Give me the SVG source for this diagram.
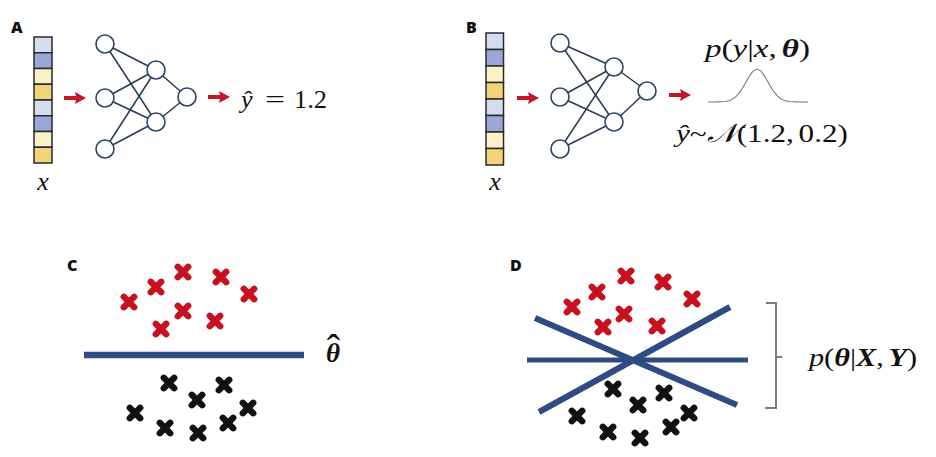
<svg xmlns="http://www.w3.org/2000/svg" xmlns:xlink="http://www.w3.org/1999/xlink" width="936" height="457" viewBox="0 0 936 457">
<style>
.lbl{font-family:"Open Sans","Liberation Sans",sans-serif;font-weight:800;font-size:16px;fill:#111}
.m{font-family:"Liberation Serif","DejaVu Serif",serif;font-size:26px;fill:#111}
.i{font-style:italic}
.b{font-weight:bold;font-style:italic}
.edge{stroke:#2b3a55;stroke-width:1.5;fill:none}
.node{fill:#fff;stroke:#2b4466;stroke-width:1.6}
.cell{stroke:#2a2a2a;stroke-width:1.5}
.c1{fill:#d6ddf0}.c2{fill:#9ba7d6}.c3{fill:#fbf1c9}.c4{fill:#f0d47a}
.arr{fill:#c0182a}
.red{stroke:#c8101f}.blk{stroke:#111}
.bline{stroke:#2e4b84;fill:none}
</style>
<defs>
<path id="arrow" d="M0,-2 L12,-2 L11,-6 L22,0 L11,6 L12,2 L0,2 Z"/>
<path id="xm" d="M-5.2,-5.2 L5.2,5.2 M5.2,-5.2 L-5.2,5.2" stroke-width="6.4" stroke-linecap="round" fill="none"/>
</defs>
<rect width="936" height="457" fill="#fff"/>

<!-- Panel labels -->
<text class="lbl" x="11" y="33">A</text>
<text class="lbl" x="466" y="33">B</text>
<text class="lbl" x="67" y="271">C</text>
<text class="lbl" x="510" y="271">D</text>

<!-- Panel A -->
<g id="vecA">
<rect class="cell c1" x="34" y="37" width="18" height="15.75"/>
<rect class="cell c2" x="34" y="52.75" width="18" height="15.75"/>
<rect class="cell c3" x="34" y="68.5" width="18" height="15.75"/>
<rect class="cell c4" x="34" y="84.25" width="18" height="15.75"/>
<rect class="cell c1" x="34" y="100" width="18" height="15.75"/>
<rect class="cell c2" x="34" y="115.75" width="18" height="15.75"/>
<rect class="cell c3" x="34" y="131.5" width="18" height="15.75"/>
<rect class="cell c4" x="34" y="147.25" width="18" height="15.75"/>
</g>
<g id="xA"><text class="m i" x="43" y="190" text-anchor="middle" font-size="28">x</text></g>

<g id="connectors">
<g class="edge">
<line x1="105" y1="44" x2="156" y2="70"/><line x1="105" y1="44" x2="156" y2="122"/>
<line x1="105" y1="98" x2="156" y2="70"/><line x1="105" y1="98" x2="156" y2="122"/>
<line x1="105" y1="149" x2="156" y2="70"/><line x1="105" y1="149" x2="156" y2="122"/>
<line x1="156" y1="70" x2="187" y2="97"/><line x1="156" y1="122" x2="187" y2="97"/>
</g>
<g class="edge">
<line x1="560" y1="43" x2="614" y2="67"/><line x1="560" y1="43" x2="614" y2="122"/>
<line x1="560" y1="97" x2="614" y2="67"/><line x1="560" y1="97" x2="614" y2="122"/>
<line x1="560" y1="149" x2="614" y2="67"/><line x1="560" y1="149" x2="614" y2="122"/>
<line x1="614" y1="67" x2="647" y2="91"/><line x1="614" y1="122" x2="647" y2="91"/>
</g>
<use href="#arrow" class="arr" x="64" y="98"/>
<use href="#arrow" class="arr" x="208" y="97"/>
<use href="#arrow" class="arr" x="517" y="98"/>
<use href="#arrow" class="arr" x="669" y="95"/>
</g>

<g id="nnA">
<circle class="node" cx="105" cy="44" r="9"/>
<circle class="node" cx="105" cy="98" r="9"/>
<circle class="node" cx="105" cy="149" r="9"/>
<circle class="node" cx="156" cy="70" r="9"/>
<circle class="node" cx="156" cy="122" r="9"/>
<circle class="node" cx="187" cy="97" r="9"/>
</g>
<g id="outA">
<text class="m i" x="241" y="108">ŷ</text>
<text class="m" x="265" y="108" textLength="20" lengthAdjust="spacingAndGlyphs">=</text>
<text class="m" x="294" y="108" textLength="33" lengthAdjust="spacingAndGlyphs">1.2</text>
</g>

<!-- Panel B -->
<g id="vecB">
<rect class="cell c1" x="486" y="33" width="17.5" height="16.5"/>
<rect class="cell c2" x="486" y="49.5" width="17.5" height="16.5"/>
<rect class="cell c3" x="486" y="66" width="17.5" height="16.5"/>
<rect class="cell c4" x="486" y="82.5" width="17.5" height="16.5"/>
<rect class="cell c1" x="486" y="99" width="17.5" height="16.5"/>
<rect class="cell c2" x="486" y="115.5" width="17.5" height="16.5"/>
<rect class="cell c3" x="486" y="132" width="17.5" height="16.5"/>
<rect class="cell c4" x="486" y="148.5" width="17.5" height="16.5"/>
</g>
<g id="xB"><text class="m i" x="495" y="190" text-anchor="middle" font-size="28">x</text></g>
<g id="nnB">
<circle class="node" cx="560" cy="43" r="9"/>
<circle class="node" cx="560" cy="97" r="9"/>
<circle class="node" cx="560" cy="149" r="9"/>
<circle class="node" cx="614" cy="67" r="9"/>
<circle class="node" cx="614" cy="122" r="9"/>
<circle class="node" cx="647" cy="91" r="9"/>
</g>
<g id="outB">
<text class="m" x="705" y="57" font-size="28" textLength="105" lengthAdjust="spacingAndGlyphs"><tspan class="i">p</tspan>(<tspan class="i">y</tspan>|<tspan class="i">x</tspan>,<tspan class="b" dx="4">θ</tspan>)</text>
<polyline fill="none" stroke="#777" stroke-width="1.1" points="708,102 717,101.9 725,101.5 729,100.7 733,98.9 737,95.7 741,90.5 745,83.8 749,76.7 753,71.1 757,69 761,71.1 765,76.7 769,83.8 773,90.5 777,95.7 781,98.9 785,100.7 789,101.5 797,101.9 808,102"/>
<text class="m" x="676" y="142" font-size="28" textLength="172" lengthAdjust="spacingAndGlyphs"><tspan class="i">ŷ</tspan>~<tspan class="i">𝒩</tspan>(1.2,<tspan dx="4">0.2)</tspan></text>
</g>

<!-- Panel C -->
<g id="redC" class="red">
<use href="#xm" x="129" y="302"/><use href="#xm" x="156" y="287"/><use href="#xm" x="183" y="272"/>
<use href="#xm" x="221" y="277"/><use href="#xm" x="249" y="294"/><use href="#xm" x="183" y="311"/>
<use href="#xm" x="215" y="321"/><use href="#xm" x="161" y="329"/>
</g>
<g id="lineC"><line class="bline" x1="84" y1="355" x2="304" y2="355" stroke-width="6.5"/></g>
<g id="thetaC">
<text class="m" text-anchor="middle"><tspan class="b" x="333" y="362" font-size="27">θ</tspan><tspan x="333.5" y="362" font-size="40">ˆ</tspan></text>
</g>
<g id="blackC" class="blk">
<use href="#xm" x="169" y="383"/><use href="#xm" x="224" y="385"/><use href="#xm" x="197" y="400"/>
<use href="#xm" x="248" y="408"/><use href="#xm" x="135" y="413"/><use href="#xm" x="165" y="428"/>
<use href="#xm" x="198" y="433"/><use href="#xm" x="228" y="423"/>
</g>

<!-- Panel D -->
<g id="redD" class="red">
<use href="#xm" x="572" y="307"/><use href="#xm" x="597" y="292"/><use href="#xm" x="626" y="276"/>
<use href="#xm" x="663" y="282"/><use href="#xm" x="692" y="299"/><use href="#xm" x="624" y="314"/>
<use href="#xm" x="657" y="326"/><use href="#xm" x="603" y="327"/>
</g>
<g id="blackD" class="blk">
<use href="#xm" x="613" y="389"/><use href="#xm" x="664" y="393"/><use href="#xm" x="638" y="405"/>
<use href="#xm" x="689" y="413"/><use href="#xm" x="577" y="416"/><use href="#xm" x="608" y="432"/>
<use href="#xm" x="640" y="438"/><use href="#xm" x="671" y="427"/>
</g>
<g id="linesD">
<line class="bline" x1="527" y1="360" x2="748" y2="360" stroke-width="5" stroke="#3a5898"/>
<line class="bline" x1="535" y1="318" x2="737" y2="405" stroke-width="6"/>
<line class="bline" x1="539" y1="412" x2="730" y2="307" stroke-width="6"/>
</g>
<g id="bracketD">
<path d="M766,303 L776,303 L776,408 L765,408 M776,357 L782,357" fill="none" stroke="#7a7a7a" stroke-width="2"/>
</g>
<g id="postD">
<text class="m" x="809" y="366" font-size="28" textLength="108" lengthAdjust="spacingAndGlyphs"><tspan class="i">p</tspan>(<tspan class="b">θ</tspan>|<tspan class="b">X</tspan>,<tspan class="b" dx="4">Y</tspan>)</text>
</g>
</svg>
